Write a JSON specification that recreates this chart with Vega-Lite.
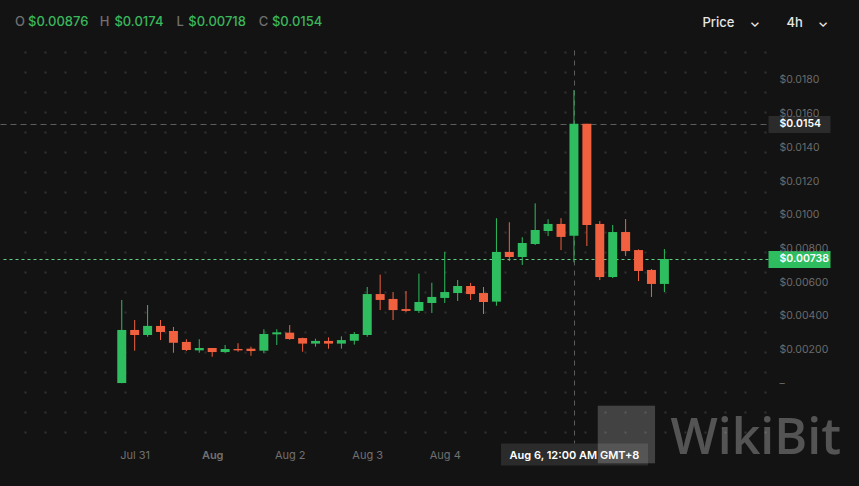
{
  "$schema": "https://vega.github.io/schema/vega-lite/v6.json",
  "width": 768,
  "height": 393,
  "autosize": {"type": "none"},
  "padding": {"left": 0, "top": 50, "right": 91, "bottom": 43},
  "background": "#131313",
  "config": {"view": {"stroke": null}, "axis": {"labelOverlap": false}},
  "title": {
    "text": "O\u2003\u2003\u2003\u2003\u2003\u2002\u2005H\u2003\u2003\u2003\u2003\u2003\u2006L\u2003\u2003\u2003\u2003\u2003\u2002\u2005C",
    "subtitle": "\u200b\u2003$0.00876\u2003\u2003$0.0174\u2003\u2002\u2005\u2006$0.00718\u2003\u2003$0.0154",
    "anchor": "start",
    "frame": "group",
    "dx": 15,
    "offset": -13,
    "font": "Inter",
    "fontSize": 13,
    "fontWeight": 500,
    "color": "#707070",
    "subtitleFont": "Inter",
    "subtitleFontSize": 13,
    "subtitleFontWeight": 500,
    "subtitleColor": "#3bb75c",
    "subtitlePadding": -13
  },
  "layer": [
    {
      "data": {
        "values": [
          {"t": "2024-07-30T20:00:00Z", "open": 0.00002, "high": 0.00495, "low": 0.00001, "close": 0.00317},
          {"t": "2024-07-31T00:00:00Z", "open": 0.00317, "high": 0.00376, "low": 0.00194, "close": 0.00287},
          {"t": "2024-07-31T04:00:00Z", "open": 0.00287, "high": 0.00465, "low": 0.00277, "close": 0.00341},
          {"t": "2024-07-31T08:00:00Z", "open": 0.00341, "high": 0.00376, "low": 0.00257, "close": 0.00305},
          {"t": "2024-07-31T12:00:00Z", "open": 0.00311, "high": 0.00335, "low": 0.00182, "close": 0.00241},
          {"t": "2024-07-31T16:00:00Z", "open": 0.00246, "high": 0.00262, "low": 0.00192, "close": 0.00198},
          {"t": "2024-07-31T20:00:00Z", "open": 0.00196, "high": 0.00262, "low": 0.00182, "close": 0.0021},
          {"t": "2024-08-01T00:00:00Z", "open": 0.0021, "high": 0.0021, "low": 0.00158, "close": 0.00186},
          {"t": "2024-08-01T04:00:00Z", "open": 0.00186, "high": 0.00228, "low": 0.00182, "close": 0.00204},
          {"t": "2024-08-01T08:00:00Z", "open": 0.00204, "high": 0.00238, "low": 0.00188, "close": 0.00196},
          {"t": "2024-08-01T12:00:00Z", "open": 0.00206, "high": 0.00218, "low": 0.00164, "close": 0.00192},
          {"t": "2024-08-01T16:00:00Z", "open": 0.00194, "high": 0.00321, "low": 0.00179, "close": 0.00293},
          {"t": "2024-08-01T20:00:00Z", "open": 0.00291, "high": 0.00321, "low": 0.00228, "close": 0.00303},
          {"t": "2024-08-02T00:00:00Z", "open": 0.00301, "high": 0.00346, "low": 0.00259, "close": 0.00263},
          {"t": "2024-08-02T04:00:00Z", "open": 0.00269, "high": 0.00271, "low": 0.00188, "close": 0.00236},
          {"t": "2024-08-02T08:00:00Z", "open": 0.00236, "high": 0.00265, "low": 0.00218, "close": 0.00252},
          {"t": "2024-08-02T12:00:00Z", "open": 0.00252, "high": 0.00273, "low": 0.00206, "close": 0.00236},
          {"t": "2024-08-02T16:00:00Z", "open": 0.00236, "high": 0.00279, "low": 0.00206, "close": 0.00257},
          {"t": "2024-08-02T20:00:00Z", "open": 0.00253, "high": 0.00305, "low": 0.0023, "close": 0.00293},
          {"t": "2024-08-03T00:00:00Z", "open": 0.00287, "high": 0.00572, "low": 0.00277, "close": 0.0053},
          {"t": "2024-08-03T04:00:00Z", "open": 0.0053, "high": 0.00645, "low": 0.00435, "close": 0.00495},
          {"t": "2024-08-03T08:00:00Z", "open": 0.00501, "high": 0.00542, "low": 0.00376, "close": 0.00435},
          {"t": "2024-08-03T12:00:00Z", "open": 0.00441, "high": 0.00548, "low": 0.00424, "close": 0.0043},
          {"t": "2024-08-03T16:00:00Z", "open": 0.0043, "high": 0.00651, "low": 0.00418, "close": 0.00483},
          {"t": "2024-08-03T20:00:00Z", "open": 0.00477, "high": 0.00597, "low": 0.00418, "close": 0.00513},
          {"t": "2024-08-04T00:00:00Z", "open": 0.00507, "high": 0.0078, "low": 0.00477, "close": 0.00542},
          {"t": "2024-08-04T04:00:00Z", "open": 0.00536, "high": 0.00613, "low": 0.00489, "close": 0.00578},
          {"t": "2024-08-04T08:00:00Z", "open": 0.00578, "high": 0.00596, "low": 0.00495, "close": 0.0053},
          {"t": "2024-08-04T12:00:00Z", "open": 0.00536, "high": 0.00572, "low": 0.00412, "close": 0.00483},
          {"t": "2024-08-04T16:00:00Z", "open": 0.00485, "high": 0.0098, "low": 0.00461, "close": 0.0078},
          {"t": "2024-08-04T20:00:00Z", "open": 0.0078, "high": 0.00956, "low": 0.00726, "close": 0.0075},
          {"t": "2024-08-05T00:00:00Z", "open": 0.0075, "high": 0.00867, "low": 0.00703, "close": 0.00833},
          {"t": "2024-08-05T04:00:00Z", "open": 0.00827, "high": 0.01068, "low": 0.00821, "close": 0.0091},
          {"t": "2024-08-05T08:00:00Z", "open": 0.00904, "high": 0.00974, "low": 0.00874, "close": 0.00946},
          {"t": "2024-08-05T12:00:00Z", "open": 0.00946, "high": 0.0098, "low": 0.00791, "close": 0.00869},
          {"t": "2024-08-05T16:00:00Z", "open": 0.00876, "high": 0.0174, "low": 0.00718, "close": 0.0154},
          {"t": "2024-08-05T20:00:00Z", "open": 0.0154, "high": 0.0154, "low": 0.00815, "close": 0.0094},
          {"t": "2024-08-06T00:00:00Z", "open": 0.00946, "high": 0.00963, "low": 0.00613, "close": 0.00631},
          {"t": "2024-08-06T04:00:00Z", "open": 0.00631, "high": 0.0094, "low": 0.00625, "close": 0.00898},
          {"t": "2024-08-06T08:00:00Z", "open": 0.00898, "high": 0.00975, "low": 0.00756, "close": 0.00785},
          {"t": "2024-08-06T12:00:00Z", "open": 0.00791, "high": 0.00795, "low": 0.00607, "close": 0.00667},
          {"t": "2024-08-06T16:00:00Z", "open": 0.00673, "high": 0.00679, "low": 0.00513, "close": 0.0059},
          {"t": "2024-08-06T20:00:00Z", "open": 0.0059, "high": 0.00797, "low": 0.00542, "close": 0.00738}
        ]
      },
      "encoding": {
        "x": {
          "field": "t",
          "type": "temporal",
          "scale": {
            "type": "utc",
            "domain": [
              {"year": 2024, "month": 7, "date": 29, "hours": 7, "minutes": 51, "utc": true},
              {"year": 2024, "month": 8, "date": 8, "hours": 2, "minutes": 32, "utc": true}
            ]
          },
          "axis": {
            "values": [
              {"year": 2024, "month": 7, "date": 31, "utc": true},
              {"year": 2024, "month": 8, "date": 1, "utc": true},
              {"year": 2024, "month": 8, "date": 2, "utc": true},
              {"year": 2024, "month": 8, "date": 3, "utc": true},
              {"year": 2024, "month": 8, "date": 4, "utc": true},
              {"year": 2024, "month": 8, "date": 5, "hours": 16, "utc": true}
            ],
            "tickCount": 40,
            "labelExpr": "utchours(datum.value) == 16 ? 'Aug 6, 12:00 AM GMT+8' : (utcdate(datum.value) == 1 ? 'Aug' : utcFormat(datum.value, '%b %-d'))",
            "domain": false,
            "ticks": true,
            "tickSize": 22,
            "tickWidth": {"condition": {"test": "utchours(datum.value) == 16", "value": 147}, "value": 1},
            "tickColor": "#2b2b2b",
            "tickOpacity": {"condition": {"test": "utchours(datum.value) == 16", "value": 1}, "value": 0},
            "labelPadding": -16,
            "labelFont": "Inter",
            "labelFontSize": 11,
            "labelFontWeight": {"condition": {"test": "utcdate(datum.value) == 1 || utchours(datum.value) == 16", "value": 600}, "value": 400},
            "labelColor": {"condition": {"test": "utchours(datum.value) == 16", "value": "#ffffff"}, "value": "#707070"},
            "labelOverlap": false,
            "labelFlush": false,
            "labelBound": false,
            "grid": true,
            "gridColor": "#5c5c5c",
            "gridDash": [5, 5],
            "gridWidth": 1,
            "gridOpacity": {"condition": {"test": "utchours(datum.value) == 16", "value": 1}, "value": 0},
            "title": "WikiBit",
            "titleX": 670,
            "titleY": 10,
            "titleAlign": "left",
            "titleBaseline": "alphabetic",
            "titleFont": "Open Sans",
            "titleFontSize": 50,
            "titleFontWeight": 600,
            "titleColor": "#ffffff",
            "titleOpacity": 0.28
          }
        },
        "color": {
          "condition": {"test": "datum.close >= datum.open", "value": "#2ebd5f"},
          "value": "#f2613f"
        }
      },
      "layer": [
        {
          "mark": {"type": "rule", "strokeWidth": 1},
          "encoding": {
            "y": {
              "field": "low",
              "type": "quantitative",
              "scale": {"domain": [-0.0035359, 0.019779], "nice": false, "zero": false},
              "axis": {
                "orient": "right",
                "values": [0, 0.002, 0.004, 0.006, 0.008, 0.01, 0.012, 0.014, 0.016, 0.018, 0.0154, 0.00738],
                "tickCount": 40,
                "labelExpr": "datum.value == 0 ? '\u2013' : (datum.value >= 0.01 ? '$' + format(datum.value, '.4f') : '$' + format(datum.value, '.5f'))",
                "labelAlign": "left",
                "labelBaseline": "middle",
                "labelPadding": -51,
                "labelFont": "Inter",
                "labelFontSize": 10.5,
                "labelFontWeight": {"condition": {"test": "datum.value == 0.0154 || datum.value == 0.00738", "value": 600}, "value": 400},
                "labelColor": {"condition": {"test": "datum.value == 0.0154 || datum.value == 0.00738", "value": "#ffffff"}, "value": "#6b6b6b"},
                "labelOverlap": false,
                "labelFlush": false,
                "labelBound": false,
                "domain": false,
                "ticks": true,
                "tickSize": 62,
                "tickWidth": 17,
                "tickColor": {"condition": {"test": "datum.value == 0.00738", "value": "#2ebd5f"}, "value": "#2b2b2b"},
                "tickOpacity": {"condition": {"test": "datum.value == 0.0154 || datum.value == 0.00738", "value": 1}, "value": 0},
                "grid": true,
                "gridWidth": 1,
                "gridColor": "#5fcf86",
                "gridDash": [3, 3],
                "gridOpacity": {"condition": {"test": "datum.value == 0.00738", "value": 1}, "value": 0},
                "title": "Price\u2003\u2009\u2304",
                "titleX": -66,
                "titleY": -28,
                "titleAngle": 0,
                "titleAlign": "left",
                "titleBaseline": "middle",
                "titleFont": "Inter",
                "titleFontSize": 13,
                "titleFontWeight": 500,
                "titleColor": "#e6e6e6"
              }
            },
            "y2": {"field": "high"}
          }
        },
        {
          "mark": {"type": "bar", "width": 9},
          "encoding": {
            "y": {"field": "open", "type": "quantitative"},
            "y2": {"field": "close"}
          }
        }
      ]
    },
    {
      "data": {"values": [{}]},
      "mark": {"type": "point", "opacity": 0},
      "encoding": {
        "x": {
          "datum": 0,
          "type": "quantitative",
          "scale": {"domain": [-1.25, 37.15], "nice": false, "zero": false},
          "axis": {
            "orient": "top",
            "values": [0, 1, 2, 3, 4, 5, 6, 7, 8, 9, 10, 11, 12, 13, 14, 15, 16, 17, 18, 19, 20, 21, 22, 23, 24, 25, 26, 27, 28, 29, 30, 31, 32, 33, 34, 35, 36, 37],
            "tickCount": 60,
            "labels": false,
            "ticks": false,
            "domain": false,
            "grid": true,
            "gridColor": "#333333",
            "gridWidth": 2,
            "gridDash": [2, 18],
            "gridDashOffset": 10,
            "title": "4h\u2003\u2009\u2304",
            "titleX": 786,
            "titleY": -28,
            "titleAlign": "left",
            "titleBaseline": "middle",
            "titleFont": "Inter",
            "titleFontSize": 13,
            "titleFontWeight": 500,
            "titleColor": "#e6e6e6"
          }
        },
        "y": {
          "datum": 0,
          "type": "quantitative",
          "scale": {"domain": [-0.0035359, 0.019779], "nice": false, "zero": false},
          "axis": {
            "orient": "left",
            "values": [0.0154],
            "tickCount": 40,
            "labels": false,
            "ticks": false,
            "domain": false,
            "grid": true,
            "gridColor": "#5c5c5c",
            "gridDash": [6, 4],
            "gridWidth": 1,
            "title": "\u25a0",
            "titleX": 626,
            "titleY": 380,
            "titleAngle": 0,
            "titleAlign": "center",
            "titleBaseline": "middle",
            "titleFont": "DejaVu Sans",
            "titleFontSize": 75,
            "titleColor": "#ffffff",
            "titleOpacity": 0.2
          }
        }
      }
    }
  ],
  "resolve": {
    "scale": {"x": "independent", "y": "independent"},
    "axis": {"x": "independent", "y": "independent"}
  }
}
